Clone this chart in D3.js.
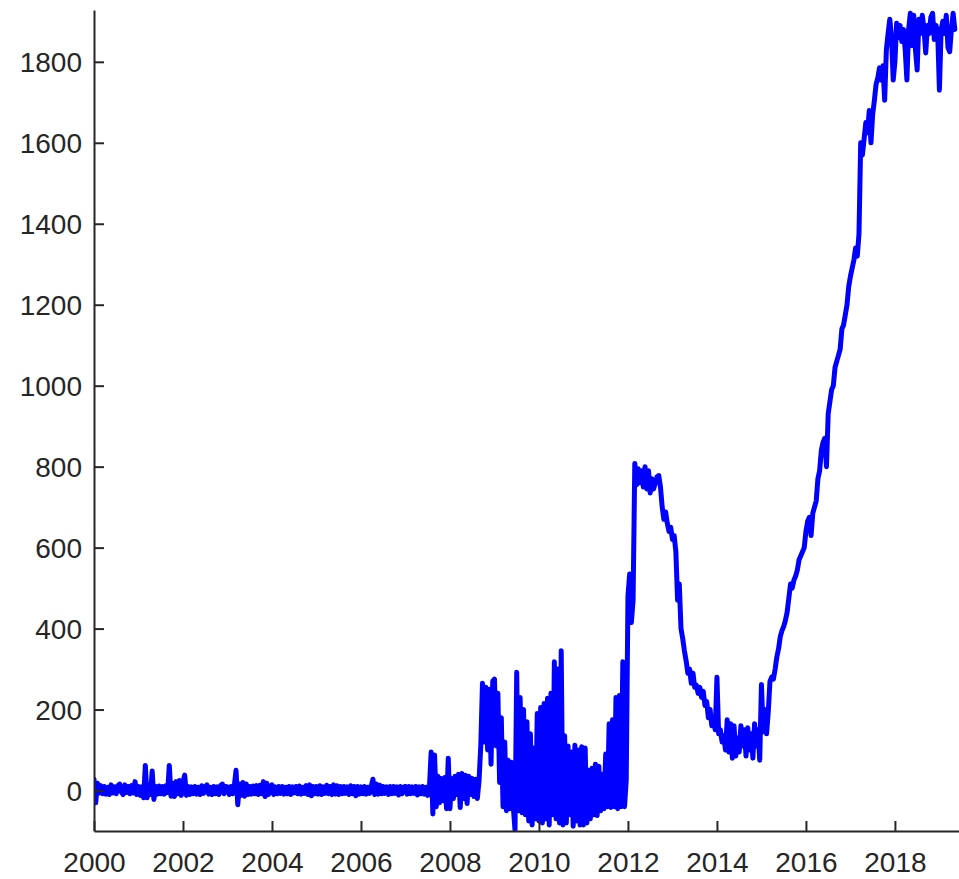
<!DOCTYPE html>
<html>
<head>
<meta charset="utf-8">
<script src="https://cdn.jsdelivr.net/npm/d3@7"></script>
<style>
  html, body { margin: 0; padding: 0; background: #fff; }
  svg { display: block; }
</style>
</head>
<body>
<svg id="chart" width="959" height="879"></svg>
<script>
// Bi-weekly readings (26 per year)
const v2000 = [28, -30, 18, -6, 12, -8, 10, -9, 8, -10, 14, -6, 9, -8, 12, 16, -4, -10, 14, -5, 10, -8, 12, -6, 22, -10];
const v2001 = [10, -12, 9, -18, 62, -18, 12, -10, 48, -22, 10, -9, 11, -8, 10, -9, 12, -5, 62, -14, 18, -15, 22, -8, 25, -12];
const v2002 = [20, 38, -12, 10, -10, 9, -8, 10, -9, 8, -10, 12, -7, 9, 14, -9, 8, -10, 10, -8, 9, -10, 12, 16, -8, 10];
const v2003 = [9, -10, 10, -8, 12, 50, -35, 16, -12, 20, -14, 16, -10, 10, -9, 11, -8, 12, -10, 13, -8, 22, -15, 18, -10, 10];
const v2004 = [14, -10, 9, -8, 10, -7, 10, -9, 8, -8, 10, -10, 9, -6, 10, -8, 11, -9, 8, -7, 12, -10, 14, -13, 10, -8];
const v2005 = [10, -9, 12, -10, 9, -7, 13, -8, 10, -10, 14, -9, 12, -10, 10, -8, 10, -7, 9, -10, 12, -8, 10, -13, 10, -9];
const v2006 = [9, -8, 10, -9, 8, -7, 10, 28, -10, 16, -9, 13, -8, 10, -7, 9, -10, 10, -8, 10, -7, 9, -11, 10, -8, 9];
const v2007 = [10, -9, 10, -8, 9, -7, 10, -11, 9, -8, 10, -9, 8, -12, 8, 95, -58, 88, -40, 35, -30, 30, -25, 32, -45, 80];
const v2008 = [-45, 30, -20, 35, -10, 40, -42, 42, -20, 38, -32, 35, -10, 30, -15, 28, -20, 25, 110, 265, 120, 255, 100, 250, 65, 270];
const v2009 = [275, 110, 240, 20, 180, -40, 120, -50, 75, -45, 70, -40, -98, 292, -50, 230, -55, 200, -60, 170, -75, 140, -85, 105, -70, 190];
const v2010 = [-75, 205, -80, 215, -70, 228, -85, 240, -60, 318, -70, 300, -80, 345, -85, 135, -80, 110, -60, 95, -88, 112, -75, 100, -85, 108];
const v2011 = [-85, 105, -80, 50, -70, 55, -60, 65, -62, 60, -50, 40, -45, 90, -40, 165, -42, 175, -40, 230, -45, 235, -40, 318, -40, 25];
const v2012 = [480, 535, 415, 470, 808, 755, 795, 760, 790, 750, 800, 745, 790, 735, 770, 745, 760, 775, 778, 750, 700, 670, 688, 660, 640, 650];
const v2013 = [620, 630, 590, 470, 510, 400, 375, 345, 320, 290, 300, 265, 290, 255, 260, 240, 255, 230, 245, 210, 220, 180, 200, 160, 175, 150];
const v2014 = [280, 140, 150, 120, 135, 100, 175, 95, 165, 80, 160, 85, 130, 95, 160, 110, 150, 85, 155, 100, 140, 80, 165, 110, 150, 75];
const v2015 = [262, 145, 200, 140, 195, 270, 280, 275, 300, 330, 350, 380, 395, 405, 420, 440, 475, 510, 500, 520, 530, 545, 570, 580, 590, 600];
const v2016 = [640, 665, 675, 630, 685, 700, 715, 770, 790, 840, 860, 870, 800, 930, 960, 990, 1000, 1045, 1060, 1075, 1090, 1140, 1150, 1175, 1200, 1245];
const v2017 = [1270, 1290, 1310, 1340, 1320, 1375, 1600, 1570, 1610, 1650, 1625, 1680, 1600, 1670, 1705, 1745, 1760, 1785, 1755, 1790, 1705, 1830, 1870, 1905, 1860, 1755];
const v2018 = [1800, 1895, 1860, 1890, 1850, 1880, 1830, 1755, 1880, 1920, 1840, 1915, 1830, 1780, 1905, 1870, 1915, 1880, 1822, 1890, 1870, 1910, 1920, 1855, 1890, 1870];
const v2019 = [1730, 1880, 1900, 1870, 1915, 1835, 1825, 1880, 1920, 1880];

const yearSeries = [
  [2000, v2000], [2001, v2001], [2002, v2002], [2003, v2003], [2004, v2004],
  [2005, v2005], [2006, v2006], [2007, v2007], [2008, v2008], [2009, v2009],
  [2010, v2010], [2011, v2011], [2012, v2012], [2013, v2013], [2014, v2014],
  [2015, v2015], [2016, v2016], [2017, v2017], [2018, v2018], [2019, v2019]
];
const pointsPerYear = 26;

const xTicks = [2000, 2002, 2004, 2006, 2008, 2010, 2012, 2014, 2016, 2018];
const yTicks = [0, 200, 400, 600, 800, 1000, 1200, 1400, 1600, 1800];
const xDomain = [2000, 2019.44];
const yDomain = [-100, 1928];

const data = [];
yearSeries.forEach(([yr, vals]) => {
  vals.forEach((v, i) => data.push({ t: yr + i / pointsPerYear, v: v }));
});

const svg = d3.select("#chart");
const plotLeft = 94, plotRight = 959, plotTop = 10, plotBottom = 831;

const x = d3.scaleLinear().domain(xDomain).range([plotLeft, plotRight]);
const y = d3.scaleLinear().domain(yDomain).range([plotBottom, plotTop]);

const axisColor = "#262626";
const fontFamily = "'Liberation Sans', Arial, Helvetica, sans-serif";

svg.append("defs").append("clipPath").attr("id", "clip")
  .append("rect").attr("x", plotLeft).attr("y", plotTop - 6)
  .attr("width", plotRight - plotLeft).attr("height", plotBottom - plotTop + 6);

const line = d3.line().x(d => x(d.t)).y(d => y(d.v));

svg.append("path")
  .datum(data)
  .attr("clip-path", "url(#clip)")
  .attr("fill", "none")
  .attr("stroke", "#0000ff")
  .attr("stroke-width", 5)
  .attr("stroke-linejoin", "round")
  .attr("stroke-linecap", "round")
  .attr("d", line);

const xAxis = d3.axisBottom(x).tickValues(xTicks).tickFormat(d3.format("d"))
  .tickSizeInner(-10).tickSizeOuter(0).tickPadding(21);
const yAxis = d3.axisLeft(y).tickValues(yTicks).tickFormat(d3.format("d"))
  .tickSizeInner(-10).tickSizeOuter(0).tickPadding(12);

const gx = svg.append("g").attr("transform", `translate(0,${plotBottom})`).call(xAxis);
const gy = svg.append("g").attr("transform", `translate(${plotLeft},0)`).call(yAxis);

[gx, gy].forEach(g => {
  g.select(".domain").attr("stroke", axisColor).attr("stroke-width", 2);
  g.selectAll(".tick line").attr("stroke", axisColor).attr("stroke-width", 2);
  g.selectAll(".tick text").attr("fill", axisColor)
    .style("font-family", fontFamily).style("font-size", "28px");
});
gy.selectAll(".tick text").attr("dy", "0.36em");
</script>
</body>
</html>
